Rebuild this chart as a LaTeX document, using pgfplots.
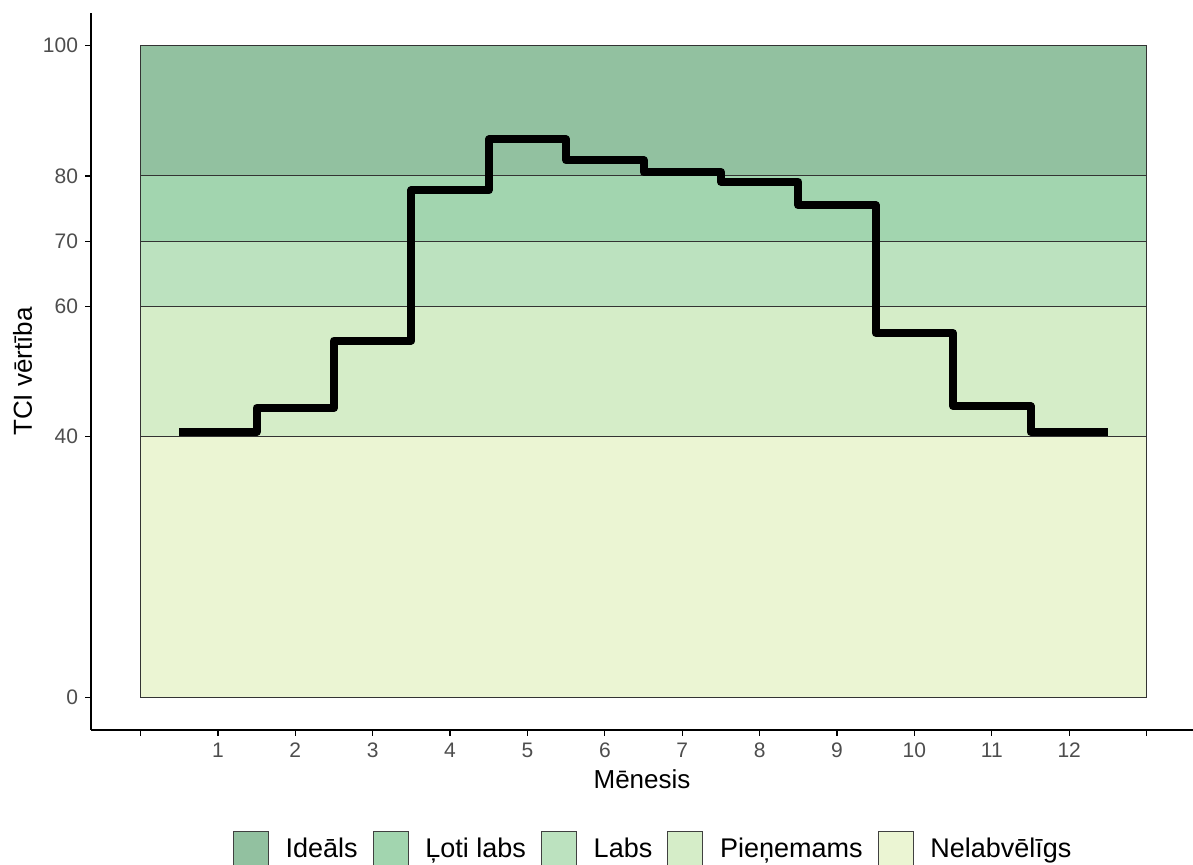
\documentclass[border=0pt]{standalone}
\usepackage{pgfplots}
\pgfplotsset{compat=1.18}
\usepackage{fontspec}
\setmainfont{Liberation Sans}
\definecolor{cIdeal}{HTML}{92C1A0}
\definecolor{cLoti}{HTML}{A2D5AF}
\definecolor{cLabs}{HTML}{BCE2BF}
\definecolor{cPien}{HTML}{D5EDC8}
\definecolor{cNelab}{HTML}{EBF5D3}
\definecolor{tickgray}{HTML}{4D4D4D}
\begin{document}
\begin{tikzpicture}
\path[use as bounding box] (0pt,0pt) rectangle (596.5pt,432.5pt);
\begin{axis}[
  at={(45.5pt,67.5pt)}, anchor=south west,
  scale only axis, width=551pt, height=358.5pt,
  xmin=-0.64, xmax=13.6, ymin=-5, ymax=105,
  axis x line*=bottom, axis y line*=left,
  axis line style={line width=0.9pt, black, -},
  xtick={0,1,2,3,4,5,6,7,8,9,10,11,12,13},
  xticklabels={,1,2,3,4,5,6,7,8,9,10,11,12,},
  ytick={0,40,60,70,80,100},
  tick align=outside, major tick length=3pt,
  tick style={line width=0.6pt, black},
  ticklabel style={font=\fontsize{10.5}{12}\selectfont, text=tickgray},
  /pgf/number format/assume math mode=true,
  xlabel={Mēnesis}, ylabel={TCI vērtība},
  label style={font=\fontsize{13}{15}\selectfont},
  xlabel style={yshift=1pt},
  ylabel style={yshift=-1.5pt},
  legend style={draw=none, fill=none, at={(0.511,-0.135)}, anchor=north,
    legend columns=5, font=\fontsize{13.5}{16}\selectfont,
    /tikz/every odd column/.append style={column sep=6.5pt},
    /tikz/every even column/.append style={column sep=5.5pt},
    nodes={inner sep=2pt}},
  legend image code/.code={\draw[#1, draw=black!75, line width=0.4pt] (0pt,-8.75pt) rectangle (17.5pt,8.75pt);},
]
\addplot[fill=cIdeal, draw=black!80, line width=0.5pt] coordinates {(0,80) (13,80) (13,100) (0,100)} -- cycle;
\addlegendentry{Ideāls}
\addplot[fill=cLoti, draw=black!80, line width=0.5pt] coordinates {(0,70) (13,70) (13,80) (0,80)} -- cycle;
\addlegendentry{Ļoti labs}
\addplot[fill=cLabs, draw=black!80, line width=0.5pt] coordinates {(0,60) (13,60) (13,70) (0,70)} -- cycle;
\addlegendentry{Labs}
\addplot[fill=cPien, draw=black!80, line width=0.5pt] coordinates {(0,40) (13,40) (13,60) (0,60)} -- cycle;
\addlegendentry{Pieņemams}
\addplot[fill=cNelab, draw=black!80, line width=0.5pt] coordinates {(0,0) (13,0) (13,40) (0,40)} -- cycle;
\addlegendentry{Nelabvēlīgs}
\addplot[const plot, black, line width=4pt, line join=round, line cap=butt, mark=none, forget plot] coordinates {
(0.5,40.75) (1.5,44.4) (2.5,54.75) (3.5,77.8) (4.5,85.6) (5.5,82.4) (6.5,80.6) (7.5,79.1) (8.5,75.5) (9.5,55.9) (10.5,44.7) (11.5,40.75) (12.5,40.75)};
\end{axis}
\end{tikzpicture}
\end{document}
